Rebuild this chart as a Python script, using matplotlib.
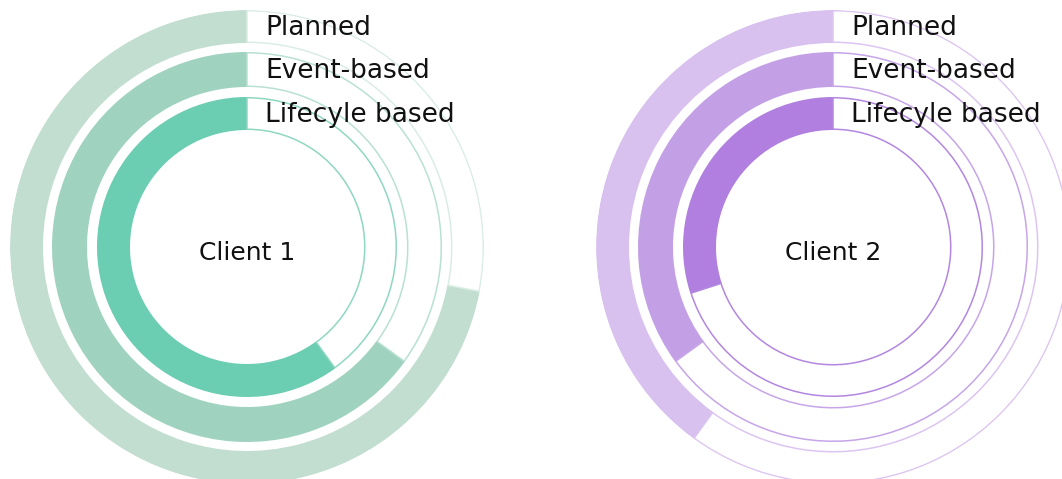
import numpy as np
import matplotlib
matplotlib.use("Agg")
import matplotlib.pyplot as plt

clients = ["Client 1", "Client 2"]
categories = ["Planned", "Event-based", "Lifecyle based"]
values_c1 = [72, 65, 60]
values_c2 = [40, 35, 30]
colors_c1 = ["#c2ded1", "#9fd3bf", "#6bcdb1"]
outline_c1 = ["#daede5", "#b8e1d1", "#8fd7c2"]
colors_c2 = ["#d9c1ef", "#c3a0e6", "#b07fdf"]
outline_c2 = ["#dcc6f1", "#c6a5e8", "#b387e0"]

W, H = 1062, 479
fig = plt.figure(figsize=(W / 100, H / 100), dpi=100)
plt.rcParams['font.family'] = ['DejaVu Sans']

R = 237
rings = [(204, 237), (160, 195), (117, 150)]
centers = [(247, 247), (833, 247)]

for (cx, cy), name, vals, cols, ocols in zip(centers, clients,
                                           [values_c1, values_c2],
                                           [colors_c1, colors_c2],
                                           [outline_c1, outline_c2]):
    ax = fig.add_axes([(cx - R) / W, (H - cy - R) / H, 2 * R / W, 2 * R / H],
                      projection='polar')
    ax.set_theta_zero_location('N')
    ax.set_theta_direction(1)
    ax.set_ylim(0, R)
    ax.set_axis_off()
    for cat, v, c, oc, (r0, r1) in zip(categories, vals, cols, ocols, rings):
        frac = v / 100.0
        ax.bar(0, r1 - r0, width=2 * np.pi * frac, bottom=r0, align='edge',
               color=c, edgecolor='none', linewidth=0)
        ax.bar(2 * np.pi * frac, r1 - r0 - 1.5, width=2 * np.pi * (1 - frac),
               bottom=r0 + 0.75, align='edge', facecolor='none', edgecolor=oc,
               linewidth=1.1)
        ax.annotate(cat, xy=(0, (r0 + r1) / 2), xytext=(18, -1),
                    textcoords='offset pixels', ha='left', va='center',
                    fontsize=19, color='#111111', annotation_clip=False)
    ax.annotate(name, xy=(0, 0), xytext=(0, -6), textcoords='offset pixels',
                ha='center', va='center', fontsize=18, color='#111111')

fig.savefig("out.png", dpi=100)
